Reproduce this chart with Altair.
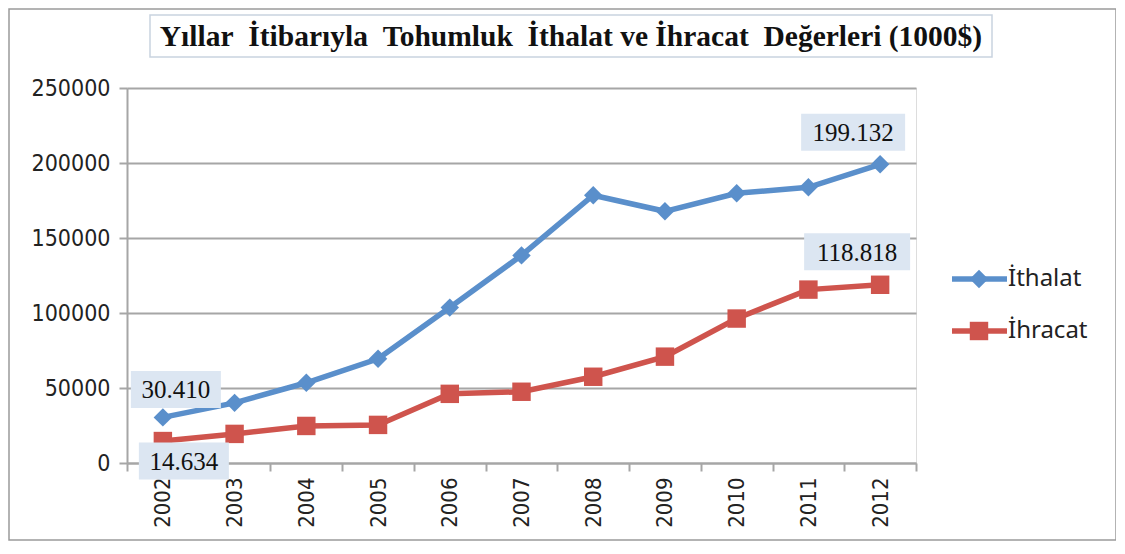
import altair as alt
import pandas as pd

years = ["2002", "2003", "2004", "2005", "2006", "2007", "2008", "2009", "2010", "2011", "2012"]
ithalat = [30410, 40100, 53500, 69500, 103600, 138400, 178500, 167800, 179800, 183800, 199132]
ihracat = [14634, 19400, 24700, 25400, 46100, 47500, 57500, 70900, 96300, 115600, 118818]
series_names = ["İthalat", "İhracat"]
series_colors = ["#5A8FCB", "#CF544D"]
NB = "\u00a0"
title_text = ("Yıllar" + NB * 2 + "İtibarıyla" + NB * 2 + "Tohumluk" + NB * 2 + "İthalat ve İhracat"
              + NB * 2 + "Değerleri (1000$)")

rows = []
for i, y in enumerate(years):
    rows.append({"year": y, "series": series_names[0], "value": ithalat[i]})
    rows.append({"year": y, "series": series_names[1], "value": ihracat[i]})
df = pd.DataFrame(rows)

# data labels: (year, value, text)
label_rows = [
    ("2002", ithalat[0], "30.410"),
    ("2002", ihracat[0], "14.634"),
    ("2012", ithalat[-1], "199.132"),
    ("2012", ihracat[-1], "118.818"),
]
# offsets / box sizes (style)
label_style = [(13, -28, 90), (21, 20, 90), (-27, -32, 104), (-23, -33, 106)]

W, H = 789, 375
AXC = "#A6A6A6"
NUM_FONT = "DejaVu Sans Condensed"

xenc = alt.X("year:N", sort=years, title=None,
             scale=alt.Scale(paddingInner=0, paddingOuter=0),
             axis=alt.Axis(labelAngle=270, labelFont=NUM_FONT, labelFontSize=22,
                           labelColor="#222", domainColor=AXC, domainWidth=2,
                           tickColor=AXC, tickWidth=2, tickSize=8, tickBand="extent",
                           labelPadding=6, labelBaseline="middle", labelAlign="right"))
yenc = alt.Y("value:Q", title=None,
             scale=alt.Scale(domain=[0, 250000], nice=False),
             axis=alt.Axis(values=[0, 50000, 100000, 150000, 200000, 250000],
                           format="d", labelFont=NUM_FONT, labelFontSize=23,
                           labelColor="#222", domainColor=AXC, domainWidth=2,
                           tickColor=AXC, tickWidth=2, tickSize=8, labelPadding=9,
                           gridColor=AXC, gridWidth=2))
color = alt.Color("series:N", scale=alt.Scale(domain=series_names, range=series_colors), legend=None)

base = alt.Chart(df)
lines = base.mark_line(strokeWidth=5.5).encode(x=xenc, y=yenc, color=color, detail="series:N")
pts = base.mark_point(filled=True, opacity=1, size=340).encode(
    x=alt.X("year:N", sort=years), y="value:Q", color=color,
    shape=alt.Shape("series:N", scale=alt.Scale(domain=series_names, range=["diamond", "square"]), legend=None))

layers = [lines, pts]

for (yr, val, txt), (dx, dy, bw) in zip(label_rows, label_style):
    ldf = pd.DataFrame([{"year": yr, "value": val, "label": txt}])
    bh = 37
    path = "M-1,{a} L1,{a} L1,{b} L-1,{b} Z".format(a=-bh / bw, b=bh / bw)
    box = alt.Chart(ldf).mark_point(shape=path, filled=True, color="#DCE6F2", opacity=1,
                                    size=bw * bw, xOffset=dx, yOffset=dy).encode(
        x=alt.X("year:N", sort=years), y="value:Q")
    t = alt.Chart(ldf).mark_text(font="Liberation Serif", fontSize=25, color="#111",
                                 dx=dx, dy=dy + 1, baseline="middle").encode(
        x=alt.X("year:N", sort=years), y="value:Q", text="label:N")
    layers += [box, t]

dummy = pd.DataFrame([{"a": 1}])
# outer border
border = alt.Chart(dummy).mark_rect(fill=None, stroke="#9A9A9A", strokeWidth=1.5).encode(
    x=alt.value(-118), x2=alt.value(989), y=alt.value(-79), y2=alt.value(452))
title_box = alt.Chart(dummy).mark_rect(fill="white", stroke="#C9D3E0", strokeWidth=1.5).encode(
    x=alt.value(23), x2=alt.value(865), y=alt.value(-73), y2=alt.value(-31))
title = alt.Chart(dummy).mark_text(font="Liberation Serif", fontWeight="bold", fontSize=29.5,
                                   color="#111", baseline="middle", align="center").encode(
    x=alt.value(444), y=alt.value(-51), text=alt.value(title_text))
layers = [border, title_box, title] + layers

# legend
for i, (nm, col) in enumerate(zip(series_names, series_colors)):
    ly = 191 + i * 52
    ln = alt.Chart(dummy).mark_rule(strokeWidth=5.5, color=col).encode(
        x=alt.value(825), x2=alt.value(880), y=alt.value(ly))
    mk = alt.Chart(dummy).mark_point(filled=True, opacity=1, size=340, color=col,
                                     shape=["diamond", "square"][i]).encode(
        x=alt.value(852), y=alt.value(ly))
    tx = alt.Chart(dummy).mark_text(font="Noto Sans", fontSize=24, color="#222",
                                    align="left", baseline="middle").encode(
        x=alt.value(881), y=alt.value(ly), text=alt.value(nm))
    layers += [ln, mk, tx]

chart = alt.layer(*layers).properties(
    width=W, height=H,
    autosize=alt.AutoSizeParams(type="none"),
    padding={"left": 119, "top": 80, "right": 200, "bottom": 80},
).configure_view(stroke=None).configure(background="white")

chart.save("out.html", embed_options={"renderer": "svg", "actions": False})
